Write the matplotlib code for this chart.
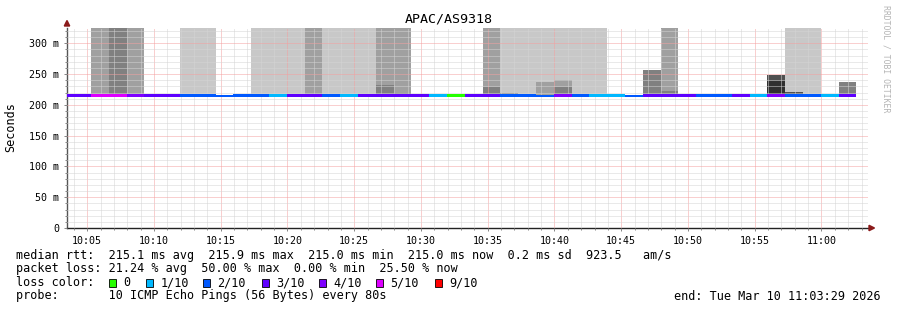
import numpy as np
import matplotlib
matplotlib.use("Agg")
import matplotlib.pyplot as plt
from matplotlib.patches import Rectangle, Polygon
from matplotlib.ticker import MultipleLocator, FixedLocator

W, H, DPI = 897, 310, 100

# ---------------- data ----------------
title = "APAC/AS9318"
x_start_min = 3 + 29 / 60          # 10:03:29, minutes after 10:00
x_end_min = 63 + 29 / 60           # 11:03:29
first_step_min = 2 + 37 / 60       # start of first RRD step (10:02:37)
step_sec = 80

tick_minutes = [5, 10, 15, 20, 25, 30, 35, 40, 45, 50, 55, 60]
tick_labels = ["10:05", "10:10", "10:15", "10:20", "10:25", "10:30",
               "10:35", "10:40", "10:45", "10:50", "10:55", "11:00"]
y_ticks = [0, 50, 100, 150, 200, 250, 300]
y_tick_labels = ["0", "50 m", "100 m", "150 m", "200 m", "250 m", "300 m"]
y_max = 324.8

# median rtt per 80 s step (ms)
median_ms = [215.3, 215.3, 215.3, 215.3, 215.3, 215.3, 215.3, 215.3, 215.3, 215.3,
             215.3, 215.3, 215.3, 215.3, 215.3, 215.3, 215.3, 215.3, 215.3, 215.3,
             215.3, 215.3, 215.3, 215.3, 215.3, 215.3, 215.3, 215.3, 215.3, 215.3,
             215.3, 215.3, 215.3, 215.3, 215.3, 215.3, 215.3, 215.3, 215.3, 215.3,
             215.3, 215.3, 215.3, 215.3, 215.3]
# steps whose median band is only partly drawn
partial_step = [0, 0, 0, 0, 0, 0, 0, 0, 0, 1,
                0, 0, 0, 0, 0, 0, 0, 0, 0, 0,
                0, 0, 0, 0, 0, 0, 0, 1, 0, 0,
                0, 0, 1, 0, 0, 0, 0, 0, 0, 0,
                0, 0, 0, 0, 0]
# lost pings out of 10 per step
loss_tenths = [3, 3, 5, 5, 4, 3, 3, 2, 2, 2,
               2, 2, 1, 3, 3, 2, 1, 3, 3, 3,
               3, 1, 0, 3, 3, 2, 2, 2, 4, 2,
               1, 1, 2, 3, 3, 3, 2, 2, 3, 1,
               4, 2, 2, 1, 3]
INF = np.inf
NA = np.nan
# smoke band tops (ms) per step, by shade (outer -> inner); inf = off scale
smoke_light = [NA, NA, NA, NA, NA, NA, NA, INF, INF, NA,
               NA, INF, INF, INF, NA, INF, INF, INF, NA, NA,
               NA, NA, NA, NA, NA, INF, INF, INF, INF, INF,
               INF, NA, NA, NA, NA, NA, NA, NA, NA, NA,
               NA, INF, INF, NA, NA]
smoke_mid = [NA, NA, INF, NA, INF, NA, NA, NA, NA, NA,
             NA, NA, NA, NA, INF, NA, NA, NA, INF, INF,
             NA, NA, NA, NA, INF, NA, NA, 237, 240, NA,
             NA, NA, NA, NA, INF, NA, NA, NA, NA, NA,
             NA, NA, NA, NA, NA]
smoke_dark = [NA, NA, NA, INF, NA, NA, NA, NA, NA, NA,
              NA, NA, NA, NA, NA, NA, NA, NA, 232, 219,
              NA, NA, NA, NA, 229, 220, NA, NA, 229, NA,
              NA, NA, NA, 257, 222, NA, NA, NA, NA, NA,
              NA, NA, NA, NA, 237]
smoke_darker = [NA, NA, NA, NA, NA, NA, NA, NA, NA, NA,
                NA, NA, NA, NA, NA, NA, NA, NA, NA, NA,
                NA, NA, NA, NA, NA, NA, NA, NA, NA, NA,
                NA, NA, NA, NA, NA, NA, NA, NA, NA, NA,
                248.5, 221, NA, NA, NA]
smoke_darkest = [NA, NA, NA, NA, NA, NA, NA, NA, NA, NA,
                 NA, NA, NA, NA, NA, NA, NA, NA, NA, NA,
                 NA, NA, NA, NA, NA, NA, NA, NA, NA, NA,
                 NA, NA, NA, NA, NA, NA, NA, NA, NA, NA,
                 239, NA, NA, NA, NA]

loss_levels = [0, 1, 2, 3, 4, 5, 9]
loss_level_labels = ["0", "1/10", "2/10", "3/10", "4/10", "5/10", "9/10"]
loss_level_colors = ["#26ff00", "#00b8ff", "#0059ff", "#5e00ff", "#7e00ff", "#dd00ff", "#ff0000"]

legend_rows = [
    "median rtt:  215.1 ms avg  215.9 ms max  215.0 ms min  215.0 ms now  0.2 ms sd  923.5   am/s",
    "packet loss: 21.24 % avg  50.00 % max  0.00 % min  25.50 % now",
    "loss color:",
    "probe:       10 ICMP Echo Pings (56 Bytes) every 80s",
]
end_text = "end: Tue Mar 10 11:03:29 2026"
watermark = "RRDTOOL / TOBI OETIKER"

# ---------------- styles ----------------
MONO = "DejaVu Sans Mono"
shade_colors = ["#c8c8c8", "#a0a0a0", "#808080", "#505050", "#303030"]
band_half = 2.6


def fx(px):
    return px / W


def fy(py):
    return 1 - py / H


fig = plt.figure(figsize=(W / DPI, H / DPI), dpi=DPI, facecolor="white")
ax = fig.add_axes([fx(67), fy(228), (868 - 67) / W, (228 - 28) / H])
ax.set_xlim(x_start_min, x_end_min)
ax.set_ylim(0, y_max)

step_min = step_sec / 60
n = len(median_ms)
lefts = np.array([first_step_min + i * step_min for i in range(n)])
med = np.array(median_ms, dtype=float)

# smoke
for layer, col in zip([smoke_light, smoke_mid, smoke_dark, smoke_darker, smoke_darkest], shade_colors):
    top = np.array(layer, dtype=float)
    ok = ~np.isnan(top)
    top = np.where(np.isinf(top), y_max + 10, top)
    ax.bar(lefts[ok], (top - med)[ok], bottom=med[ok], width=step_min, align="edge",
           color=col, linewidth=0, zorder=1)

# median band colored by loss
cmap = dict(zip(loss_levels, loss_level_colors))
for i in range(n):
    c = cmap[loss_tenths[i]]
    if partial_step[i]:
        ax.bar(lefts[i], band_half + 0.6, bottom=med[i] - band_half, width=step_min,
               align="edge", color=c, linewidth=0, zorder=3)
    else:
        ax.bar(lefts[i], 2 * band_half, bottom=med[i] - band_half, width=step_min,
               align="edge", color=c, linewidth=0, zorder=3)

# grid
ax.xaxis.set_major_locator(FixedLocator(tick_minutes))
ax.set_xticklabels(tick_labels)
ax.xaxis.set_minor_locator(MultipleLocator(1))
ax.yaxis.set_major_locator(FixedLocator(y_ticks))
ax.set_yticklabels(y_tick_labels)
ax.yaxis.set_minor_locator(MultipleLocator(10))
ax.set_axisbelow(False)
ax.grid(which="minor", color="#d4d4d4", linestyle=(0, (1, 1)), linewidth=0.72, zorder=2)
ax.grid(which="major", color="#f4a0a0", linestyle=(0, (1, 1)), linewidth=0.72, zorder=2)

for s in ["top", "right"]:
    ax.spines[s].set_visible(False)
ax.spines["left"].set_color("#555555")
ax.spines["bottom"].set_color("#222222")
ax.spines["left"].set_linewidth(1.0)
ax.spines["bottom"].set_linewidth(1.0)
ax.set_facecolor("white")

ax.tick_params(which="both", direction="out", color="#888888", width=0.72)
ax.tick_params(which="major", length=2.5, labelsize=7.2, pad=3.0)
ax.tick_params(which="minor", length=1.5)
for lab in ax.get_xticklabels() + ax.get_yticklabels():
    lab.set_fontfamily(MONO)
    lab.set_color("#000000")

# arrows
arrow_col = "#8b1a1a"
fig.patches.append(Polygon([[fx(64.3), fy(26)], [fx(69.7), fy(26)], [fx(67), fy(20.5)]],
                           closed=True, transform=fig.transFigure, color=arrow_col))
fig.patches.append(Polygon([[fx(869), fy(225.3)], [fx(869), fy(230.7)], [fx(874.5), fy(228)]],
                           closed=True, transform=fig.transFigure, color=arrow_col))

# title & labels
fig.text(0.5, fy(19.5), title, ha="center", va="center", fontsize=9.6, family=MONO)
fig.text(fx(11), fy(127.5), "Seconds", ha="center", va="center", rotation=90,
         fontsize=8.5, family=MONO)
fig.text(fx(886), fy(59), watermark, ha="center", va="center", rotation=270,
         fontsize=5.9, family=MONO, color="#b4b4b4")

# legend
row_y = [255, 268.5, 282.5, 296]
for txt, y in zip(legend_rows, row_y):
    fig.text(fx(16), fy(y), txt, ha="left", va="center", fontsize=8.5, family=MONO)
fig.text(fx(880.5), fy(296), end_text, ha="right", va="center", fontsize=8.5, family=MONO)

box_x = [109, 146, 203, 262, 319, 376, 435]
for bx, lab, col in zip(box_x, loss_level_labels, loss_level_colors):
    fig.patches.append(Rectangle((fx(bx), fy(286.5)), 6.5 / W, 8 / H, transform=fig.transFigure,
                                 facecolor=col, edgecolor="#000000", linewidth=0.6))
    fig.text(fx(bx + 14.5), fy(282.5), lab, ha="left", va="center", fontsize=8.5, family=MONO)

fig.savefig("out.png", dpi=DPI, facecolor="white")
